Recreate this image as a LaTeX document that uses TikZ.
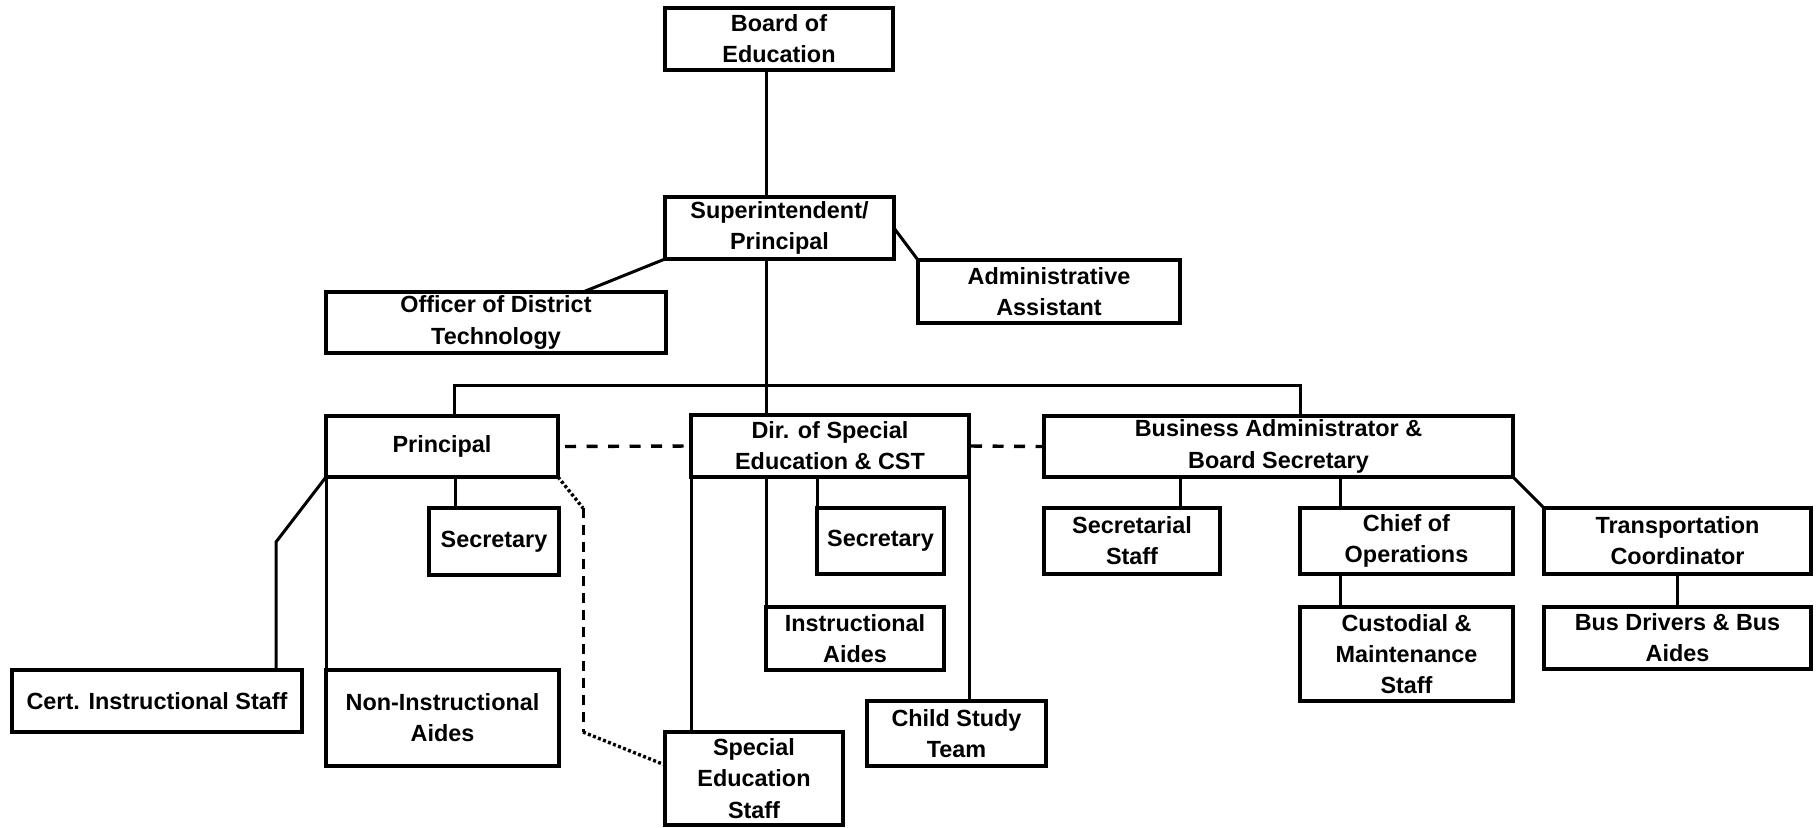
\documentclass[tikz,border=0pt]{standalone}
\usepackage{fontspec}
\setmainfont{Liberation Sans}
\usetikzlibrary{calc}
\begin{document}
\begin{tikzpicture}[x=0.5pt,y=-0.5pt,
  box/.style={draw, line width=1.7pt, inner sep=0pt, outer sep=0pt, align=center,
    font=\bfseries\fontsize{11.7}{15.6}\selectfont},
  sz/.style 2 args={minimum width=#1*0.5pt, minimum height=#2*0.5pt},
  link/.style={line width=1.5pt},
  dashline/.style={line width=1.7pt, dash pattern=on 5.5pt off 5.25pt},
  dashvline/.style={line width=1.5pt, dash pattern=on 5pt off 3.5pt},
  dotline/.style={line width=1.7pt, dash pattern=on 1.5pt off 1.2pt}]
\useasboundingbox (0,0) rectangle (1817,827);
% nodes
\node[box, sz={228}{62}] (board) at (779,39) {Board of\\Education};
\node[box, sz={229}{62}] (super) at (779.5,228) {Superintendent/\\Principal};
\node[box, sz={340}{61}] (officer) at (496,322.5) {Officer of District\\Technology};
\node[box, sz={262}{63}] (admin) at (1049,291.5) {Administrative\\Assistant};
\node[box, sz={232}{61}] (principal) at (442,446.5) {Principal};
\node[box, sz={278}{62}] (dir) at (830,446) {Dir. of Special\\Education \& CST};
\node[box, sz={469}{61}] (business) at (1278.5,446.5) {Business Administrator \&\\Board Secretary};
\node[box, sz={130}{67}] (secP) at (494,541.5) {Secretary};
\node[box, sz={127}{66}] (secD) at (880.5,541) {Secretary};
\node[box, sz={176}{66}] (secStaff) at (1132,541) {Secretarial\\Staff};
\node[box, sz={213}{66}] (chief) at (1406.5,541) {Chief of\\Operations};
\node[box, sz={267}{66}] (transp) at (1677.5,541) {Transportation\\Coordinator};
\node[box, sz={178}{63}] (instrA) at (855,638.5) {Instructional\\Aides};
\node[box, sz={213}{94}] (custodial) at (1406.5,654) {Custodial \&\\Maintenance\\Staff};
\node[box, sz={267}{62}] (busDrivers) at (1677.5,638) {Bus Drivers \& Bus\\Aides};
\node[box, sz={290}{62}] (cert) at (157,701) {Cert. Instructional Staff};
\node[box, sz={233}{96}] (nonInst) at (442.5,718) {Non-Instructional\\Aides};
\node[box, sz={179}{65}] (cst) at (956.5,733.5) {Child Study\\Team};
\node[box, sz={178}{93}] (sped) at (754,778.5) {Special\\Education\\Staff};
% helper coordinates
\coordinate (spine) at (766,0);
\coordinate (busL) at (454,385);
\coordinate (busR) at (1300,385);
\coordinate (offT) at (583,0);
\coordinate (secPx) at (455,0);
\coordinate (certBend) at (276,542);
\coordinate (dotA) at (583,508);
\coordinate (dotB) at (583,732);
\coordinate (spedIn) at ($(sped.north west)+(0,33)$);
\coordinate (ssx) at (1180,0);
\coordinate (chx) at (1340,0);
% connectors
\draw[link] (board.south -| spine) -- (super.north -| spine);
\draw[link] (super.south -| spine) -- (dir.north -| spine);
\draw[link] (principal.north -| busL) -- (busL) -- (busR) -- (business.north -| busR);
\draw[link] (super.south west) -- (officer.north -| offT);
\draw[link] (super.east) -- (admin.north west);
\draw[link] (principal.south -| secPx) -- (secP.north -| secPx);
\draw[link] (principal.south west) -- (certBend) -- (cert.north -| certBend);
\draw[link] (principal.south west) -- (nonInst.north west);
\draw[dotline] (principal.south east) -- (dotA);
\draw[dashvline] (dotA) -- (dotB);
\draw[dotline] (dotB) -- (spedIn);
\draw[dashline, shorten <=3.5pt, shorten >=3.5pt] (principal.east) -- (dir.west);
\draw[dashline, shorten <=1pt] (dir.east) -- (business.west);
\draw[link] (dir.south west) -- (sped.north -| dir.south west);
\draw[link] (dir.south -| spine) -- (instrA.north west);
\draw[link] (dir.south -| secD.north west) -- (secD.north west);
\draw[link] (dir.south east) -- (cst.north -| dir.south east);
\draw[link] (business.south -| ssx) -- (secStaff.north -| ssx);
\draw[link] (business.south -| chx) -- (chief.north -| chx);
\draw[link] (chief.south -| chx) -- (custodial.north -| chx);
\draw[link] (business.south east) -- (transp.north west);
\draw[link] (transp.south) -- (busDrivers.north);
\end{tikzpicture}
\end{document}
